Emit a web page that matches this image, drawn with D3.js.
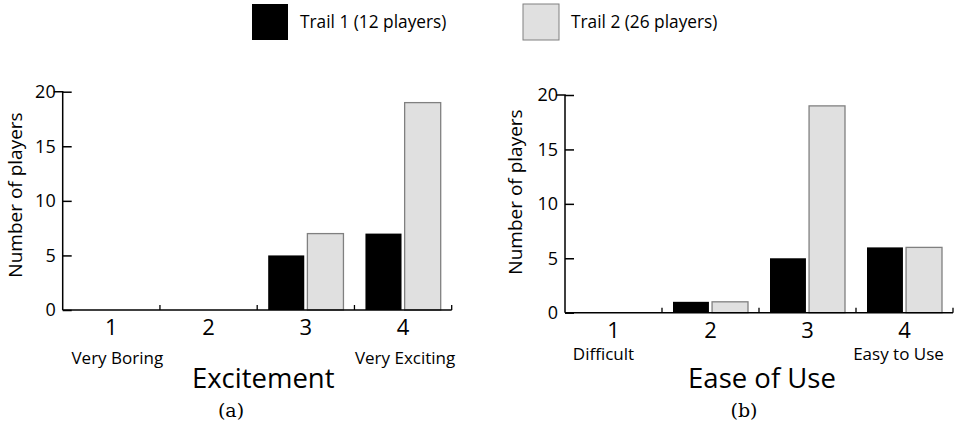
<!DOCTYPE html>
<html lang="en">
<head>
    <meta charset="UTF-8">
    <title>Excitement and Ease of Use</title>
    <script src="https://d3js.org/d3.v7.min.js"></script>
    <style>
        body { margin: 0; background: #fff; }
        svg { display: block; font-family: "Open Sans", "DejaVu Sans", sans-serif; }
    </style>
</head>
<body>
    <svg width="956" height="430"></svg>
    <script>
        // Data
        const categories = ["1", "2", "3", "4"];
        const seriesNames = ["Trail 1 (12 players)", "Trail 2 (26 players)"];
        const excitementTrail1 = [0, 0, 5, 7];
        const excitementTrail2 = [0, 0, 7, 19];
        const easeTrail1 = [0, 1, 5, 6];
        const easeTrail2 = [0, 1, 19, 6];
        const yTicks = [0, 5, 10, 15, 20];

        const colors = ["#000000", "#e0e0e0"];
        const svg = d3.select("svg");

        // Legend
        const legend = svg.append("g");
        [252, 523].forEach((lx, i) => {
            legend.append("rect")
                .attr("x", lx).attr("y", 4)
                .attr("width", 36).attr("height", 36)
                .attr("fill", colors[i])
                .attr("stroke", i ? "#808080" : "none")
                .attr("stroke-width", 1);
            legend.append("text")
                .attr("x", lx + 48).attr("y", 22)
                .attr("dy", "0.35em")
                .attr("font-size", 17.3)
                .text(seriesNames[i]);
        });

        function panel(opts) {
            const g = svg.append("g");
            const x = d3.scaleBand().domain(categories).range([opts.x0, opts.x1]);
            const sub = d3.scaleBand().domain([0, 1])
                .range([11, x.bandwidth() - 11]).paddingInner(0.08);
            const y = d3.scaleLinear().domain([0, 20]).range([opts.yBottom, opts.yTop]);

            const rows = categories.map((c, i) => ({ c, v: [opts.s1[i], opts.s2[i]] }));

            // bars
            g.selectAll("g.grp").data(rows).join("g")
                .attr("transform", d => `translate(${x(d.c)},0)`)
                .selectAll("rect")
                .data(d => d.v.map((v, k) => ({ v, k })).filter(d => d.v > 0))
                .join("rect")
                .attr("x", d => sub(d.k))
                .attr("width", sub.bandwidth())
                .attr("y", d => y(d.v))
                .attr("height", d => y(0) - y(d.v))
                .attr("fill", d => colors[d.k])
                .attr("stroke", d => d.k ? "#808080" : "none")
                .attr("stroke-width", 1.3);

            // y axis
            const yAxis = g.append("g")
                .attr("transform", `translate(${opts.x0},0)`)
                .call(d3.axisLeft(y).tickValues(yTicks).tickSize(-9).tickPadding(7));
            yAxis.select(".domain").attr("d", `M-9,${opts.yTop}H0V${opts.yBottom}`).attr("stroke-width", 1.5);
            yAxis.selectAll(".tick line").attr("stroke-width", 1.5);
            yAxis.selectAll(".tick text").attr("font-size", 18).attr("font-family", "Open Sans").attr("fill", "#000");

            // x axis: ticks at band boundaries
            const xAxisG = g.append("g").attr("transform", `translate(0,${opts.yBottom})`);
            xAxisG.append("path")
                .attr("d", `M${opts.x0},0H${opts.x1}`)
                .attr("stroke", "#000").attr("stroke-width", 1.5);
            xAxisG.selectAll("line.b").data(categories.slice(1).concat(["end"])).join("line")
                .attr("x1", d => d === "end" ? opts.x1 : x(d))
                .attr("x2", d => d === "end" ? opts.x1 : x(d))
                .attr("y1", 0).attr("y2", -5)
                .attr("stroke", "#000").attr("stroke-width", 1.3);
            xAxisG.selectAll("text.cat").data(categories).join("text")
                .attr("x", d => x(d) + x.bandwidth() / 2)
                .attr("y", opts.catY - opts.yBottom)
                .attr("dy", "0.35em")
                .attr("text-anchor", "middle")
                .attr("font-size", 22)
                .text(d => d);

            // end labels
            g.append("text")
                .attr("x", x("1") + x.bandwidth() / 2 + opts.lowDx)
                .attr("y", opts.subY).attr("dy", "0.35em")
                .attr("text-anchor", "middle").attr("font-size", 17)
                .text(opts.low);
            g.append("text")
                .attr("x", x("4") + x.bandwidth() / 2 + opts.highDx)
                .attr("y", opts.subY).attr("dy", "0.35em")
                .attr("text-anchor", "middle").attr("font-size", 17)
                .text(opts.high);

            // axis titles
            g.append("text")
                .attr("x", (opts.x0 + opts.x1) / 2 + opts.titleDx)
                .attr("y", 378).attr("dy", "0.35em")
                .attr("text-anchor", "middle").attr("font-size", 27.5)
                .text(opts.title);
            g.append("text")
                .attr("transform", `translate(${opts.ylabX},${opts.ylabY}) rotate(-90)`)
                .attr("text-anchor", "middle").attr("dy", "0.35em")
                .attr("font-size", 19)
                .text("Number of players");

            // subfigure caption
            g.append("text")
                .attr("x", opts.capX).attr("y", 410).attr("dy", "0.35em")
                .attr("text-anchor", "middle")
                .attr("font-family", "DejaVu Serif, Liberation Serif, serif")
                .attr("font-size", 19)
                .text(opts.caption);
        }

        panel({
            x0: 62.7, x1: 451.7, yTop: 91.7, yBottom: 310,
            s1: excitementTrail1, s2: excitementTrail2,
            catY: 327, subY: 358, low: "Very Boring", high: "Very Exciting",
            lowDx: 6, highDx: 2, title: "Excitement", titleDx: 6,
            ylabX: 15, ylabY: 195, capX: 231, caption: "(a)"
        });

        panel({
            x0: 565, x1: 953, yTop: 95, yBottom: 312.7,
            s1: easeTrail1, s2: easeTrail2,
            catY: 330, subY: 354, low: "Difficult", high: "Easy to Use",
            lowDx: -10, highDx: -6, title: "Ease of Use", titleDx: 3,
            ylabX: 515, ylabY: 192, capX: 744, caption: "(b)"
        });
    </script>
</body>
</html>
